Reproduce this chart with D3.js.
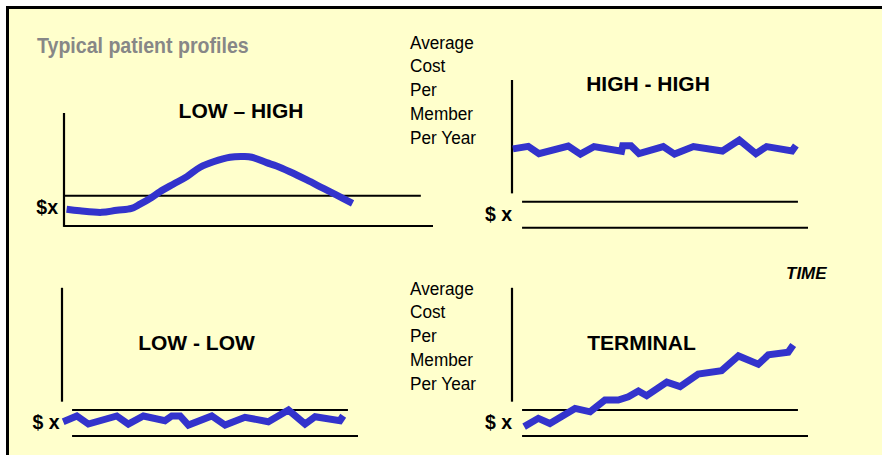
<!DOCTYPE html>
<html>
<head>
<meta charset="utf-8">
<script src="https://cdn.jsdelivr.net/npm/d3@7"></script>
<style>
html,body{margin:0;padding:0;background:#fff;}
svg{display:block;}
text{font-family:"Liberation Sans",Arial,Helvetica,sans-serif;}
</style>
</head>
<body>
<svg id="chart" width="882" height="455"></svg>
<script>
// ---------------- DATA (time index 0..100, cost in units of $x) ----------------
const panelTitles = ["LOW \u2013 HIGH", "HIGH - HIGH", "LOW - LOW", "TERMINAL"];
const chartTitle = "Typical patient profiles";
const yAxisLabelLines = ["Average", "Cost", "Per", "Member", "Per Year"];
const thresholdLabels = ["$x", "$ x", "$ x", "$ x"];
const timeLabel = "TIME";

const lowHighTime = [0.7, 4.3, 10.2, 14.3, 18.3, 20.6, 23.3, 26.0, 29.6, 33.3, 36.9, 40.5, 45.0, 48.6, 50.9, 54.9, 57.6, 61.2, 65.8, 70.3, 73.9, 78.2];
const lowHighCost = [0.55, 0.50, 0.45, 0.52, 0.58, 0.72, 0.91, 1.13, 1.38, 1.63, 1.94, 2.12, 2.27, 2.29, 2.27, 2.09, 1.98, 1.79, 1.52, 1.24, 1.02, 0.75];

const highHighTime = [0.3, 5.5, 9.1, 19.0, 23.1, 27.7, 37.0, 37.4, 40.2, 42.9, 51.1, 54.9, 61.3, 71.1, 76.8, 82.4, 86.0, 94.6, 95.9];
const highHighCost = [3.03, 3.13, 2.85, 3.14, 2.83, 3.12, 2.94, 3.15, 3.15, 2.85, 3.12, 2.83, 3.12, 2.95, 3.37, 2.85, 3.12, 2.95, 3.16];

const lowLowTime = [0.4, 5.0, 8.9, 18.5, 22.4, 27.5, 34.8, 37.1, 39.9, 42.7, 50.6, 55.1, 61.8, 69.7, 76.5, 82.1, 85.5, 93.9, 95.0];
const lowLowCost = [0.55, 0.77, 0.46, 0.77, 0.46, 0.77, 0.59, 0.77, 0.77, 0.42, 0.77, 0.42, 0.72, 0.55, 1.00, 0.46, 0.74, 0.59, 0.78];

const terminalTime = [4.1, 8.9, 12.8, 21.3, 26.4, 31.4, 35.9, 39.3, 42.7, 45.5, 52.3, 56.8, 62.9, 70.8, 76.5, 83.2, 86.6, 93.3, 95.0];
const terminalCost = [0.36, 0.68, 0.48, 1.06, 0.93, 1.38, 1.38, 1.51, 1.73, 1.55, 2.07, 1.90, 2.38, 2.51, 3.08, 2.76, 3.12, 3.22, 3.50];

const seriesTimes = [lowHighTime, highHighTime, lowLowTime, terminalTime];
const seriesCosts = [lowHighCost, highHighCost, lowLowCost, terminalCost];

// ---------------- LAYOUT ----------------
const panels = [
  {x0: 64,  x1: 433, yBase: 226,   yRef: 195.7, axisV: [-0.03, 3.73], baseT: [0, 100],   refT: [0, 96.7],
   titleX: 241, titleY: 118, labX: 58, labY: 214, curve: d3.curveCatmullRom},
  {x0: 512, x1: 808, yBase: 227.7, yRef: 201.7, axisV: [1.32, 5.68], baseT: [3.4, 100], refT: [3.4, 96.6],
   titleX: 648, titleY: 90.5, labX: 512, labY: 221, curve: d3.curveLinear},
  {x0: 62,  x1: 358, yBase: 436,   yRef: 410,   axisV: [1.32, 5.7],  baseT: [3.4, 100], refT: [3.4, 96.6],
   titleX: 196.5, titleY: 350, labX: 59.5, labY: 429, curve: d3.curveLinear},
  {x0: 512, x1: 808, yBase: 436,   yRef: 410,   axisV: [1.32, 5.7],  baseT: [3.4, 100], refT: [3.4, 96.6],
   titleX: 641.5, titleY: 350, labX: 512, labY: 429, curve: d3.curveLinear}
];

const svg = d3.select("#chart");

// background + border
svg.append("rect").attr("x", 7.5).attr("y", 7.5).attr("width", 882).attr("height", 455)
  .attr("fill", "#FFFFCC").attr("stroke", "#000").attr("stroke-width", 3);

// chart title
svg.append("text").attr("transform", "translate(37,53) scale(0.89,1)")
  .attr("font-size", 22).attr("font-weight", "bold").attr("fill", "#878787")
  .text(chartTitle);

// y-axis labels (two blocks)
[{x: 410, y: 48.5}, {x: 410, y: 294.5}].forEach(pos => {
  const g = svg.append("g").attr("transform", `translate(${pos.x},${pos.y}) scale(0.93,1)`);
  g.selectAll("text").data(yAxisLabelLines).join("text")
    .attr("x", 0).attr("y", (d, i) => i * 23.8)
    .attr("font-size", 18.5).attr("fill", "#000")
    .text(d => d);
});

// TIME label
svg.append("text").attr("x", 786).attr("y", 279.3)
  .attr("font-size", 17).attr("font-weight", "bold").attr("font-style", "italic")
  .text(timeLabel);

const line = d3.line();

panels.forEach((p, i) => {
  const x = d3.scaleLinear().domain([0, 100]).range([p.x0, p.x1]);
  const y = d3.scaleLinear().domain([0, 1]).range([p.yBase, p.yRef]);
  const g = svg.append("g");

  // vertical axis
  g.append("line").attr("x1", x(0)).attr("x2", x(0))
    .attr("y1", y(p.axisV[0])).attr("y2", y(p.axisV[1]))
    .attr("stroke", "#000").attr("stroke-width", 2.2);
  // time axis (baseline)
  g.append("line").attr("x1", x(p.baseT[0])).attr("x2", x(p.baseT[1]))
    .attr("y1", y(0)).attr("y2", y(0))
    .attr("stroke", "#000").attr("stroke-width", 2);
  // $x reference line
  g.append("line").attr("x1", x(p.refT[0])).attr("x2", x(p.refT[1]))
    .attr("y1", y(1)).attr("y2", y(1))
    .attr("stroke", "#000").attr("stroke-width", 2);

  // series
  const pts = seriesTimes[i].map((t, k) => [x(t), y(seriesCosts[i][k])]);
  g.append("path").attr("d", line.curve(p.curve)(pts))
    .attr("fill", "none").attr("stroke", "#3333CC").attr("stroke-width", 7)
    .attr("stroke-linejoin", "miter").attr("stroke-linecap", "butt");

  // title
  g.append("text").attr("x", p.titleX).attr("y", p.titleY)
    .attr("text-anchor", "middle").attr("font-size", 21).attr("font-weight", "bold")
    .text(panelTitles[i]);

  // $x label
  g.append("text").attr("x", p.labX).attr("y", p.labY)
    .attr("text-anchor", "end").attr("font-size", 19.5).attr("font-weight", "bold")
    .text(thresholdLabels[i]);
});
</script>
</body>
</html>
